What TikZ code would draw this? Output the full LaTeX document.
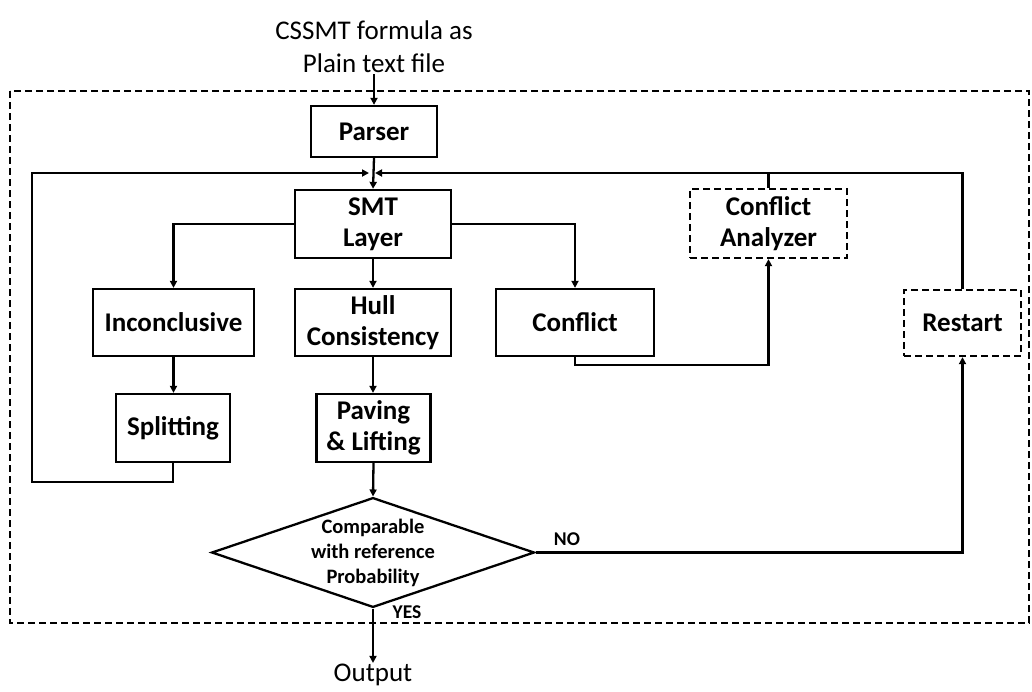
\documentclass[tikz,border=0pt]{standalone}
\usepackage{fontspec}
\setmainfont{Carlito}
\usetikzlibrary{arrows.meta,shapes.geometric,calc}
\begin{document}
\begin{tikzpicture}[x=1pt,y=-1pt,
  line width=2.3pt,
  arr/.style={-{Triangle[length=7pt,width=7pt]}},
  box/.style={draw, inner sep=0pt, align=center, font=\bfseries\fontsize{27}{31}\selectfont},
  dbox/.style={box, dash pattern=on 7pt off 4pt},
  frame/.style={draw, dash pattern=on 7pt off 4pt},
  lbl/.style={font=\bfseries\fontsize{19.5}{22}\selectfont, inner sep=0pt},
  plain/.style={font=\fontsize{27}{33}\selectfont, align=center, inner sep=0pt}]
\useasboundingbox (0,0) rectangle (1032,691);

% outer dashed frame
\draw[frame] (10,91) rectangle (1029,623);

% input and output texts
\node[plain, anchor=south] (input) at (374,74) {CSSMT formula as\\Plain text file};
\node[plain] (output) at (373,675) {Output};

% processing boxes
\node[box, minimum width=126pt, minimum height=51pt] (parser) at (374,131.5) {Parser};
\node[box, minimum width=156pt, minimum height=68pt] (smt) at (373,224) {SMT\\Layer};
\node[box, minimum width=161pt, minimum height=67pt] (incon) at (173.5,322.5) {Inconclusive};
\node[box, minimum width=156pt, minimum height=67pt] (hull) at (373,322.5) {Hull\\Consistency};
\node[box, minimum width=158pt, minimum height=67pt] (conflict) at (575,322.5) {Conflict};
\node[dbox, minimum width=157pt, minimum height=69pt] (ca) at (768.5,223.5) {Conflict\\Analyzer};
\node[dbox, minimum width=117pt, minimum height=66pt] (restart) at (962.5,323) {Restart};
\node[box, minimum width=114pt, minimum height=68pt] (split) at (173,428) {Splitting};
\node[box, minimum width=114pt, minimum height=68pt] (paving) at (373.5,428) {Paving\\\& Lifting};

% decision
\node[draw, diamond, aspect=2.94, inner sep=0pt, minimum width=318pt, minimum height=107pt,
      align=center, font=\bfseries\fontsize{20.5}{25}\selectfont] (dec) at (373,552.5)
      {Comparable\\with reference\\Probability};

% helper points
\coordinate (m) at (372,173);
\coordinate (lb) at (32,482);
\coordinate (cb) at (575,365);

% connectors
\draw[arr] (input.south) -- (parser.north);
\draw[arr] (parser.south) -- (smt.north);
\draw[arr] (split.south) |- (lb) |- ([xshift=-3pt]m);
\draw (ca.north) -- (ca.north |- m);
\draw[arr] (restart.north) |- ([xshift=3pt]m);
\draw[arr] (smt.west) -| (incon.north);
\draw[arr] (smt.east) -| (conflict.north);
\draw[arr] (smt.south) -- (hull.north);
\draw[arr] (incon.south) -- (incon.south |- split.north);
\draw[arr] (hull.south) -- (hull.south |- paving.north);
\draw[arr] (conflict.south) |- (cb) -| (ca.south);
\draw[arr] (paving.south) -- (dec.north);
\draw[arr] (dec.east) -| (restart.south);
\draw[arr] (dec.south) -- (output.north);

% branch labels
\node[lbl] (no) at (567,539) {NO};
\node[lbl] (yes) at (407,612) {YES};
\end{tikzpicture}
\end{document}
